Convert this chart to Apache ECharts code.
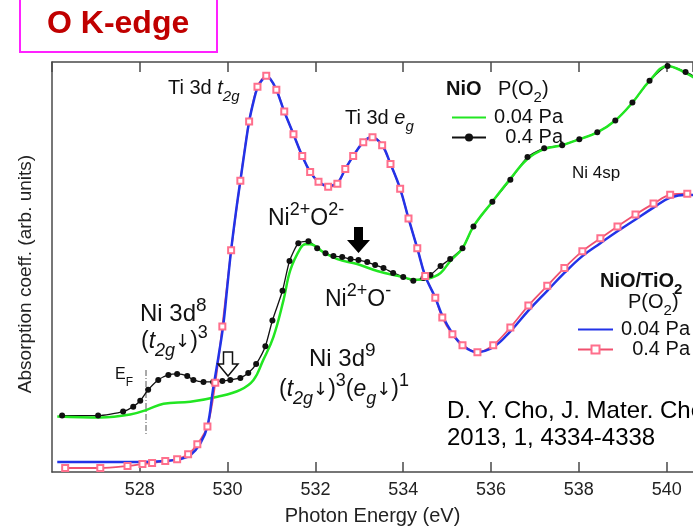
<!DOCTYPE html>
<html><head><meta charset="utf-8">
<script src="https://cdn.jsdelivr.net/npm/echarts@6/dist/echarts.min.js"></script>
<style>html,body{margin:0;padding:0;background:#fff}#c{width:693px;height:531px}</style>
</head><body><div id="c"></div>
<script>
// ---- data (photon energy eV, absorption arb. units) ----
const tio2LowE = [526.12,527.10,528.01,528.58,528.92,529.15,529.38,529.54,529.67,529.79,529.90,529.99,530.08,530.20,530.29,530.40,530.49,530.59,530.68,530.79,530.88,530.97,531.11,531.29,531.50,531.70,531.88,532.07,532.27,532.50,532.68,532.86,533.09,533.27,533.52,533.71,533.93,534.12,534.32,534.50,534.73,534.89,535.12,535.35,535.67,536.05,536.44,536.85,537.28,537.67,538.08,538.49,538.88,539.29,539.70,540.08,540.47,540.77];
const tio2LowY = [2.42,2.42,2.42,2.66,3.14,4.11,7.00,11.11,20.29,28.02,35.75,44.93,54.11,64.25,71.01,79.23,85.51,90.34,93.72,95.65,96.38,95.89,93.24,87.92,82.37,77.05,73.19,70.77,69.81,70.53,73.91,77.05,80.43,81.64,79.71,75.12,69.08,61.84,54.59,47.83,42.51,38.16,33.82,30.92,29.23,30.43,34.30,39.37,44.20,48.55,52.66,55.80,58.70,61.59,64.49,66.91,67.63,67.39];

const tio2HighE = [526.30,527.10,527.72,528.06,528.28,528.58,528.85,529.10,529.31,529.54,529.72,529.88,530.08,530.29,530.49,530.68,530.88,531.11,531.29,531.50,531.70,531.88,532.07,532.29,532.50,532.68,532.86,533.09,533.30,533.52,533.71,533.93,534.12,534.32,534.50,534.73,534.89,535.12,535.35,535.69,536.05,536.44,536.85,537.28,537.67,538.08,538.49,538.88,539.29,539.70,540.08,540.47];
const tio2HighY = [0.97,0.97,1.45,1.93,2.17,2.66,3.14,4.35,6.76,11.11,21.74,35.51,54.11,71.01,85.51,93.96,96.62,93.24,87.92,82.37,77.05,73.19,70.77,69.57,70.29,73.91,77.05,80.43,81.64,79.71,75.12,69.08,61.84,54.59,47.83,42.51,37.68,33.57,30.92,29.23,30.92,35.27,40.58,45.41,49.76,53.86,57.00,59.90,62.80,65.46,67.63,67.87];

const nioLowE = [526.12,527.10,527.78,528.17,528.54,529.15,529.77,530.29,530.59,530.81,531.04,531.27,531.43,531.66,531.77,531.88,532.18,532.50,532.95,533.41,533.87,534.32,534.55,534.85,535.07,535.35,535.60,536.03,536.44,536.83,537.21,537.62,538.01,538.42,538.83,539.22,539.61,540.02,540.43,540.77];
const nioLowY = [13.53,13.29,14.01,15.22,16.67,17.15,18.36,20.05,22.46,27.29,32.85,41.79,49.28,54.59,55.56,55.56,53.62,51.93,50.72,49.03,47.83,46.86,47.10,48.55,51.45,54.59,59.90,65.94,71.50,76.33,78.74,79.71,81.16,82.85,85.75,90.10,95.41,99.03,97.34,95.17];

const nioHighE = [526.23,527.05,527.62,527.85,528.01,528.19,528.42,528.65,528.85,529.08,529.22,529.45,529.67,529.88,530.06,530.29,530.47,530.65,530.86,531.02,531.25,531.41,531.61,531.84,532.04,532.23,532.41,532.61,532.80,532.98,533.18,533.36,533.55,533.77,534.00,534.23,534.46,534.62,534.85,535.07,535.35,535.60,536.03,536.44,536.83,537.21,537.62,538.01,538.42,538.83,539.22,539.61,540.02,540.43,540.77];
const nioHighY = [13.77,13.77,14.73,15.94,17.39,20.05,22.46,23.67,23.91,23.43,22.46,21.98,21.98,22.22,22.46,22.95,24.15,26.33,30.68,36.96,44.20,51.45,55.80,56.28,54.59,53.38,52.66,52.42,51.93,51.69,51.21,50.48,49.76,48.55,47.58,46.62,47.34,48.07,50.24,51.93,54.59,59.90,65.94,71.26,76.81,78.99,79.71,81.16,82.85,85.75,90.10,95.41,99.03,97.58,95.65];

const legendLabels = ['0.04 Pa', '0.4 Pa'];
const xMin = 526, xMax = 540.6, xStep = 2;

const zip = (a, b) => a.map((v, i) => [v, b[i]]);
const F = 'Arial, "Liberation Sans", Helvetica, sans-serif';

function rich(size, ratio) {
  const sub = Math.round(size * (ratio || 0.74));
  const lh = size + 12;
  return {
    n: {fontSize: size, fontFamily: F, fill: '#111', lineHeight: lh, verticalAlign: 'middle'},
    a: {fontSize: Math.round(size * 0.78), fontFamily: '"DejaVu Sans", sans-serif', fill: '#111', lineHeight: lh, verticalAlign: 'middle'},
    b: {fontSize: size, fontFamily: F, fill: '#111', fontWeight: 'bold', lineHeight: lh, verticalAlign: 'middle'},
    i: {fontSize: size, fontFamily: F, fill: '#111', fontStyle: 'italic', lineHeight: lh, verticalAlign: 'middle'},
    sb: {fontSize: sub, fontFamily: F, fill: '#111', lineHeight: sub + 2, verticalAlign: 'bottom'},
    bsb: {fontSize: sub, fontFamily: F, fill: '#111', fontWeight: 'bold', lineHeight: sub + 2, verticalAlign: 'bottom'},
    isb: {fontSize: sub, fontFamily: F, fill: '#111', fontStyle: 'italic', lineHeight: sub + 2, verticalAlign: 'bottom'},
    sp: {fontSize: sub, fontFamily: F, fill: '#111', lineHeight: sub + 2, verticalAlign: 'top'}
  };
}
function label(x, y, text, size, ratio) {
  return {type: 'text', x: x, y: y, z: 10,
    style: {text: text, rich: rich(size, ratio), align: 'left', verticalAlign: 'middle', fontSize: size, fontFamily: F}};
}

const chart = echarts.init(document.getElementById('c'), null, {renderer: 'canvas'});
const axisColor = '#4a4a4a';
const legText = {rich: {r: {fontSize: 20, fontFamily: F, color: '#111', width: 72, align: 'right', lineHeight: 17}}};
chart.setOption({
  animation: false,
  backgroundColor: '#fff',
  grid: {left: 52, top: 62, right: 0, height: 414},
  xAxis: [{
    type: 'value', min: xMin, max: xMax, interval: xStep, position: 'bottom',
    axisLine: {show: true, onZero: false, lineStyle: {color: axisColor, width: 1.5}},
    axisTick: {show: true, inside: true, length: 10, lineStyle: {color: axisColor, width: 1.5}},
    axisLabel: {show: true, showMinLabel: false, showMaxLabel: false, margin: 9, fontSize: 18, fontFamily: F, color: '#222'},
    splitLine: {show: false},
    name: 'Photon Energy (eV)', nameLocation: 'middle', nameGap: 34,
    nameTextStyle: {fontSize: 20, fontFamily: F, color: '#222'}
  }, {
    type: 'value', min: xMin, max: xMax, interval: xStep, position: 'top',
    axisLine: {show: true, onZero: false, lineStyle: {color: axisColor, width: 1.5}},
    axisTick: {show: true, inside: true, length: 10, lineStyle: {color: axisColor, width: 1.5}},
    axisLabel: {show: false}, splitLine: {show: false}
  }],
  yAxis: {
    type: 'value', min: 0, max: 100,
    axisLine: {show: true, onZero: false, lineStyle: {color: axisColor, width: 1.5}},
    axisTick: {show: false}, axisLabel: {show: false}, splitLine: {show: false},
    name: 'Absorption coeff. (arb. units)', nameLocation: 'middle', nameGap: 17,
    nameTextStyle: {fontSize: 19, fontFamily: F, color: '#222', padding: [0, 14, 0, 0]}
  },
  legend: [{
    data: [{name: 'NiO|' + legendLabels[0], itemStyle: {opacity: 0}}, {name: 'NiO|' + legendLabels[1]}],
    orient: 'vertical', left: 446, top: 102.5, itemWidth: 34, itemHeight: 10, itemGap: 0,
    selectedMode: false,
    formatter: n => '{r|' + n.split('|')[1] + '}',
    textStyle: legText
  }, {
    data: [{name: 'NiO/TiO2|' + legendLabels[0], itemStyle: {opacity: 0}}, {name: 'NiO/TiO2|' + legendLabels[1]}],
    orient: 'vertical', left: 572, top: 314.5, itemWidth: 35, itemHeight: 10, itemGap: 0,
    selectedMode: false,
    formatter: n => '{r|' + n.split('|')[1] + '}',
    textStyle: legText
  }],
  series: [{
    name: 'NiO|' + legendLabels[1], type: 'line', data: zip(nioHighE, nioHighY),
    smooth: 0.2, symbol: 'circle', symbolSize: 6, showSymbol: true,
    lineStyle: {color: '#111', width: 1.3}, itemStyle: {color: '#111'}
  }, {
    name: 'NiO|' + legendLabels[0], type: 'line', data: zip(nioLowE, nioLowY),
    smooth: 0.4, symbol: 'none', showSymbol: false,
    lineStyle: {color: '#22e622', width: 2.5}, itemStyle: {color: '#22e622'}
  }, {
    name: 'NiO/TiO2|' + legendLabels[1], type: 'line', data: zip(tio2HighE, tio2HighY),
    smooth: 0.3, symbol: 'emptyRect', symbolSize: 6, showSymbol: true,
    lineStyle: {color: '#f0506e', width: 1.8}, itemStyle: {color: '#ff6f8c', borderColor: '#ff6f8c', borderWidth: 1.2}
  }, {
    name: 'NiO/TiO2|' + legendLabels[0], type: 'line', data: zip(tio2LowE, tio2LowY),
    smooth: 0.4, symbol: 'none', showSymbol: false,
    lineStyle: {color: '#2233e8', width: 2.5}, itemStyle: {color: '#2233e8'}
  }],
  graphic: [
    {type: 'rect', shape: {x: 20, y: -2, width: 197, height: 54}, style: {fill: '#fff', stroke: '#ff22ff', lineWidth: 2}},
    {type: 'text', x: 47, y: 24, style: {text: 'O K-edge', fill: '#c00000', font: 'bold 32px ' + F, verticalAlign: 'middle'}},
    // legend headers
    label(446, 89, '{b|NiO}', 20),
    label(498, 89, '{n|P(O}{sb|2}{n|)}', 20),
    label(600, 281, '{b|NiO/TiO}{bsb|2}', 20),
    label(628, 302, '{n|P(O}{sb|2}{n|)}', 20),
    // annotations
    label(168, 88, '{n|Ti 3d }{i|t}{isb|2g}', 20),
    label(345, 118, '{n|Ti 3d }{i|e}{isb|g}', 20),
    label(572, 173, '{n|Ni 4sp}', 17),
    label(268, 219, '{n|Ni}{sp|2+}{n|O}{sp|2-}', 23, 0.8),
    label(325, 300, '{n|Ni}{sp|2+}{n|O}{sp|-}', 23, 0.8),
    label(140, 314, '{n|Ni 3d}{sp|8}', 24, 0.8),
    label(141, 342, '{n|(}{i|t}{isb|2g}{a|\u2193}{n|)}{sp|3}', 23, 0.8),
    label(309, 359, '{n|Ni 3d}{sp|9}', 24, 0.8),
    label(279, 390, '{n|(}{i|t}{isb|2g}{a|\u2193}{n|)}{sp|3}{n|(}{i|e}{isb|g}{a|\u2193}{n|)}{sp|1}', 23, 0.8),
    label(115, 375, '{n|E}{sb|F}', 16),
    {type: 'line', shape: {x1: 146, y1: 370, x2: 146, y2: 436}, style: {stroke: '#555', lineWidth: 1, lineDash: [6, 2, 1, 2]}},
    // arrows
    {type: 'polygon', z: 10, shape: {points: [[354, 227], [363, 227], [363, 240], [370, 240], [358.5, 253], [347, 240], [354, 240]]}, style: {fill: '#000'}},
    {type: 'polygon', z: 10, shape: {points: [[223.5, 352], [232.5, 352], [232.5, 364], [238, 364], [228, 376], [218, 364], [223.5, 364]]}, style: {fill: '#fff', stroke: '#111', lineWidth: 1.5}},
    // citation
    {type: 'text', x: 447, y: 411, style: {text: 'D. Y. Cho, J. Mater. Chem. C', fill: '#000', font: '24px ' + F, verticalAlign: 'middle'}},
    {type: 'text', x: 447, y: 438, style: {text: '2013, 1, 4334-4338', fill: '#000', font: '24px ' + F, verticalAlign: 'middle'}}
  ]
});
</script></body></html>
